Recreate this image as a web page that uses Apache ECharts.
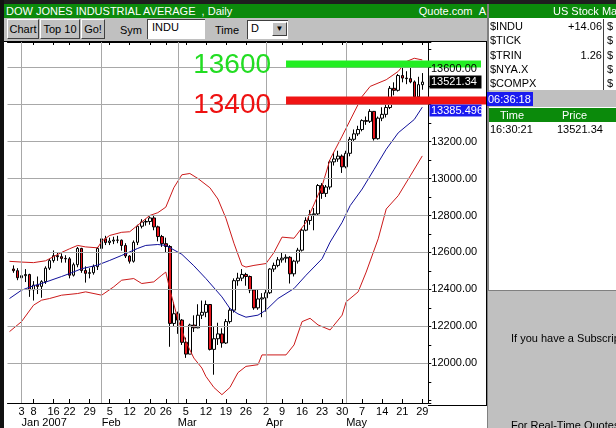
<!DOCTYPE html>
<html><head><meta charset="utf-8">
<script src="https://cdn.jsdelivr.net/npm/echarts/dist/echarts.min.js"></script>
<style>
html,body{margin:0;padding:0;width:616px;height:428px;overflow:hidden;background:#fff;font-family:"Liberation Sans",Arial,sans-serif;font-size:11px;color:#000;}
#chart{position:absolute;left:0;top:0;width:616px;height:428px;}
.a{position:absolute;white-space:nowrap;}
.btn{position:absolute;top:19px;height:20px;background:#c0c0c0;border-top:1px solid #fff;border-left:1px solid #fff;border-right:1px solid #404040;border-bottom:1px solid #404040;box-sizing:border-box;text-align:center;line-height:18px;font-size:11px;}
.row{position:absolute;left:490px;font-size:11px;line-height:14px;}
.val{position:absolute;font-size:11px;line-height:14px;text-align:right;}
</style></head><body>
<div id="chart"></div>
<!-- frame -->
<div class="a" style="left:0;top:0;width:616px;height:4px;background:#1e1e1e"></div>
<div class="a" style="left:0;top:0;width:4px;height:428px;background:#111"></div>
<div class="a" style="left:4px;top:41px;width:483px;height:1px;background:#000"></div>
<div class="a" style="left:486px;top:41px;width:1px;height:365px;background:#000"></div>
<div class="a" style="left:428px;top:405px;width:59px;height:1px;background:#000"></div>
<!-- title bar -->
<div class="a" style="left:4px;top:4px;width:483px;height:14px;background:#0b8a0b;color:#fff;overflow:hidden">
  <span class="a" style="left:2px;top:0;line-height:14px;font-size:11px">DOW JONES INDUSTRIAL AVERAGE &nbsp;, Daily</span>
  <span class="a" style="right:1px;top:0;line-height:14px;font-size:11px">Quote.com &nbsp;A</span>
</div>
<!-- toolbar -->
<div class="a" style="left:4px;top:18px;width:483px;height:23px;background:#c0c0c0"></div>
<div class="btn" style="left:7px;width:32px">Chart</div>
<div class="btn" style="left:40px;width:40px">Top 10</div>
<div class="btn" style="left:81px;width:24px">Go!</div>
<div class="a" style="left:120px;top:23px;line-height:14px">Sym</div>
<div class="a" style="left:147px;top:19px;width:58px;height:20px;background:#fff;border-top:1px solid #404040;border-left:1px solid #404040;box-sizing:border-box"><span class="a" style="left:4px;top:1px;line-height:13px">INDU</span></div>
<div class="a" style="left:215px;top:23px;line-height:14px">Time</div>
<div class="a" style="left:247px;top:20px;width:41px;height:19px;background:#fff;border-top:1px solid #404040;border-left:1px solid #404040;box-sizing:border-box"><span class="a" style="left:3px;top:1px;line-height:13px">D</span>
  <div class="a" style="left:24px;top:1px;width:15px;height:14px;background:#c0c0c0;border-top:1px solid #fff;border-left:1px solid #fff;border-right:1px solid #404040;border-bottom:1px solid #404040;box-sizing:border-box;text-align:center;font-size:8px;line-height:12px">&#9660;</div></div>
<!-- right panel -->
<div class="a" style="left:487px;top:4px;width:129px;height:424px;background:#fff"></div>
<div class="a" style="left:487px;top:4px;width:2px;height:424px;background:#808080"></div>
<div class="a" style="left:489px;top:4px;width:127px;height:14px;background:#0b8a0b;color:#fff"><span class="a" style="left:64px;top:0;line-height:14px">US Stock Ma</span></div>
<div class="row" style="top:19px">$INDU</div><div class="val" style="left:560px;width:42px;top:19px">+14.06</div>
<div class="row" style="top:33px">$TICK</div>
<div class="row" style="top:48px">$TRIN</div><div class="val" style="left:560px;width:42px;top:48px">1.26</div>
<div class="row" style="top:62px">$NYA.X</div>
<div class="row" style="top:76px">$COMPX</div>
<div class="a" style="left:603px;top:19px;width:1px;height:71px;background:#404040"></div>
<div class="a" style="left:607px;top:19px;line-height:14px">$</div>
<div class="a" style="left:607px;top:33px;line-height:14px">$</div>
<div class="a" style="left:607px;top:48px;line-height:14px">$</div>
<div class="a" style="left:607px;top:62px;line-height:14px">$</div>
<div class="a" style="left:607px;top:76px;line-height:14px">$</div>
<div class="a" style="left:489px;top:90px;width:127px;height:17px;background:#c0c0c0"></div>
<div class="a" style="left:487px;top:92px;width:46px;height:14px;background:#1a1af0;color:#fff"><span class="a" style="left:1px;top:0;line-height:14px">06:36:18</span></div>
<div class="a" style="left:489px;top:108px;width:127px;height:14px;background:#0b8a0b;color:#fff"><span class="a" style="left:11px;top:0;line-height:14px">Time</span><span class="a" style="left:73px;top:0;line-height:14px">Price</span></div>
<div class="a" style="left:490px;top:122px;line-height:14px">16:30:21</div>
<div class="a" style="left:557px;top:122px;line-height:14px">13521.34</div>
<div class="a" style="left:488px;top:290px;width:128px;height:1px;background:#808080"></div>
<div class="a" style="left:488px;top:291px;width:128px;height:137px;background:#c0c0c0"></div>
<div class="a" style="left:511px;top:331px;line-height:14px">If you have a Subscription</div>
<div class="a" style="left:511px;top:418px;line-height:14px">For Real-Time Quotes</div>
<script>
// ---- data ----
const axisDates = ['12/27','12/28','12/29',
 '1/3','1/4','1/5','1/8','1/9','1/10','1/11','1/12','1/16','1/17','1/18','1/19','1/22','1/23','1/24','1/25','1/26','1/29','1/30','1/31',
 '2/1','2/2','2/5','2/6','2/7','2/8','2/9','2/12','2/13','2/14','2/15','2/16','2/20','2/21','2/22','2/23','2/26','2/27','2/28',
 '3/1','3/2','3/5','3/6','3/7','3/8','3/9','3/12','3/13','3/14','3/15','3/16','3/19','3/20','3/21','3/22','3/23','3/26','3/27','3/28','3/29','3/30',
 '4/2','4/3','4/4','4/5','4/9','4/10','4/11','4/12','4/13','4/16','4/17','4/18','4/19','4/20','4/23','4/24','4/25','4/26','4/27','4/30',
 '5/1','5/2','5/3','5/4','5/7','5/8','5/9','5/10','5/11','5/14','5/15','5/16','5/17','5/18','5/21','5/22','5/23','5/24','5/25','5/29','5/30'];
const openP = [null,12510.57,12501.52,
 12463.15,12474.52,12480.69,12398.01,12423.49,12416.60,12442.16,12514.98,12556.08,12582.59,12577.15,12567.93,12565.53,12477.16,12533.80,12621.77,12502.56,12487.02,12490.78,12523.31,
 12621.69,12673.68,12653.49,12661.74,12666.87,12666.31,12637.63,12580.83,12552.55,12654.85,12741.86,12765.01,12767.57,12786.64,12738.41,12686.02,12647.48,12632.26,12216.24,
 12268.63,12234.34,12114.10,12050.41,12207.59,12192.45,12260.70,12276.32,12318.62,12075.96,12133.40,12159.68,12110.41,12226.17,12288.10,12447.52,12461.14,12481.01,12469.97,12397.29,12300.36,12348.75,
 12354.35,12382.30,12510.30,12530.05,12560.20,12569.14,12573.85,12484.62,12552.96,12612.13,12720.46,12773.04,12803.84,12808.63,12961.98,12919.40,12953.94,13089.89,13105.50,13120.94,
 13062.91,13136.14,13211.88,13241.38,13264.62,13312.97,13309.07,13362.87,13215.13,13326.22,13346.78,13383.84,13487.53,13476.72,13556.53,13542.88,13539.95,13522.15,13441.13,13507.28,null];
const closeP = [null,12501.52,12463.15,
 12474.52,12480.69,12398.01,12423.49,12416.60,12442.16,12514.98,12556.08,12582.59,12577.15,12567.93,12565.53,12477.16,12533.80,12621.77,12502.56,12487.02,12490.78,12523.31,12621.69,
 12673.68,12653.49,12661.74,12666.87,12666.31,12637.63,12580.83,12552.55,12654.85,12741.86,12765.01,12767.57,12786.64,12738.41,12686.02,12647.48,12632.26,12216.24,12268.63,
 12234.34,12114.10,12050.41,12207.59,12192.45,12260.70,12276.32,12318.62,12075.96,12133.40,12159.68,12110.41,12226.17,12288.10,12447.52,12461.14,12481.01,12469.97,12397.29,12300.36,12348.75,12354.35,
 12382.30,12510.30,12530.05,12560.20,12569.14,12573.85,12484.62,12552.96,12612.13,12720.46,12773.04,12803.84,12808.63,12961.98,12919.40,12953.94,13089.89,13105.50,13120.94,13062.91,
 13136.14,13211.88,13241.38,13264.62,13312.97,13309.07,13362.87,13215.13,13326.22,13346.78,13383.84,13487.53,13476.72,13556.53,13542.88,13539.95,13522.15,13441.13,13507.28,13521.34,null];
const highP = [null,12530,12515,
 12580,12510,12485,12445,12470,12450,12525,12565,12611,12600,12595,12585,12575,12545,12630,12625,12525,12515,12535,12630,
 12685,12690,12680,12685,12690,12670,12650,12585,12665,12750,12780,12780,12795,12800,12745,12695,12680,12640,12330,
 12280,12240,12140,12215,12260,12320,12340,12340,12320,12200,12220,12190,12240,12300,12460,12490,12510,12490,12475,12400,12400,12380,
 12400,12515,12545,12575,12600,12590,12580,12560,12625,12730,12790,12830,12840,12970,12975,12965,13100,13140,13150,13130,
 13150,13225,13265,13285,13320,13335,13375,13365,13335,13385,13400,13500,13520,13565,13600,13580,13634,13530,13550,13570,null];
const lowP = [null,12490,12450,
 12404,12440,12360,12340,12375,12355,12430,12505,12545,12555,12545,12545,12460,12470,12520,12490,12437,12460,12480,12505,
 12610,12640,12640,12645,12650,12610,12570,12540,12545,12640,12730,12745,12750,12720,12660,12630,12600,12090,12200,
 12160,12100,12030,12050,12170,12190,12240,12250,12070,11939,12100,12085,12105,12215,12275,12420,12445,12420,12380,12290,12290,12250,
 12280,12375,12495,12520,12545,12545,12432,12470,12540,12605,12715,12750,12720,12800,12890,12900,12940,13070,13090,13030,
 13055,13120,13200,13230,13255,13290,13300,13205,13210,13310,13330,13375,13450,13470,13520,13510,13515,13420,13440,13480,null];
// Bollinger bands
const upperBand = [['12/27',12552],['1/3',12548],['1/8',12545],['1/11',12555],['1/18',12600],['1/22',12620],['1/24',12638],['1/26',12630],['1/31',12625],['2/1',12660],['2/5',12692],['2/8',12709],['2/12',12712],['2/15',12765],['2/20',12800],['2/22',12815],['2/26',12845],['2/28',12950],['3/2',13020],['3/6',13027],['3/8',13000],['3/13',12950],['3/15',12889],['3/19',12785],['3/21',12650],['3/23',12530],['3/26',12521],['3/28',12530],['4/2',12540],['4/4',12600],['4/9',12683],['4/12',12677],['4/17',12763],['4/23',12960],['4/25',13104],['4/30',13229],['5/7',13444],['5/9',13498],['5/15',13534],['5/18',13579],['5/22',13632],['5/24',13650],['5/29',13641]];
const middleBand = [['12/27',12351],['1/3',12396],['1/8',12420],['1/10',12432],['1/18',12470],['1/22',12486],['1/25',12512],['1/31',12532],['2/5',12557],['2/8',12584],['2/14',12622],['2/16',12638],['2/22',12643],['2/26',12638],['3/2',12590],['3/7',12528],['3/12',12459],['3/16',12360],['3/20',12297],['3/22',12268],['3/26',12250],['3/29',12261],['4/2',12288],['4/5',12351],['4/12',12405],['4/17',12477],['4/23',12566],['4/25',12656],['4/30',12763],['5/2',12853],['5/7',12943],['5/10',13050],['5/15',13158],['5/18',13247],['5/24',13319],['5/29',13385.496]];
const lowerBand = [['12/27',12172],['1/3',12226],['1/8',12315],['1/10',12342],['1/12',12351],['1/18',12369],['1/24',12378],['1/26',12387],['2/1',12369],['2/6',12414],['2/8',12450],['2/13',12459],['2/15',12432],['2/21',12441],['2/23',12477],['2/26',12494],['2/27',12400],['2/28',12320],['3/1',12240],['3/2',12180],['3/5',12118],['3/7',12029],['3/9',11975],['3/12',11930],['3/14',11870],['3/16',11831],['3/20',11870],['3/22',11950],['3/26',11984],['3/29',11993],['3/30',12046],['4/10',12046],['4/12',12100],['4/16',12226],['4/18',12244],['4/20',12208],['4/25',12181],['4/30',12261],['5/1',12333],['5/4',12387],['5/8',12494],['5/11',12674],['5/15',12835],['5/18',12907],['5/23',13014],['5/29',13122]];
// ticks / labels
const dayTicks = ['1/3','1/8','1/16','1/22','1/29','2/5','2/12','2/20','2/26','3/5','3/12','3/19','3/26','4/2','4/9','4/16','4/23','4/30','5/7','5/14','5/21','5/29'];
const monthTickDates = ['1/3','2/1','3/1','4/2','5/1'];
const monthTickLabels = ['Jan 2007','Feb','Mar','Apr','May'];
const gridLevels = [12000,12200,12400,12600,12800,13000,13200,13400,13600];
const levelHigh = 13600, levelLow = 13400, levelStart = '4/10';
const lastPrice = 13521.34, maLast = 13385.496;

const FONT = '"Liberation Sans", Arial, sans-serif';
const chart = echarts.init(document.getElementById('chart'));
const candleData = axisDates.map((d,i)=> closeP[i]==null ? '-' : [openP[i], closeP[i], lowP[i], highP[i]]);
const isDay = (i,v)=>dayTicks.indexOf(v)>=0;
const isMonth = (i,v)=>monthTickDates.indexOf(v)>=0;
chart.setOption({
  animation:false,
  backgroundColor:'#ffffff',
  grid:{left:7.5, right:187.7, top:42, bottom:23},
  xAxis:[
    {type:'category', data:axisDates, boundaryGap:true, position:'bottom',
     axisLine:{lineStyle:{color:'#000',width:1}},
     axisTick:{show:true, inside:true, length:4, alignWithLabel:true, interval:isDay, lineStyle:{color:'#000'}},
     axisLabel:{interval:isDay, formatter:v=>v.split('/')[1], color:'#000', fontSize:11, fontFamily:FONT, margin:3},
     splitLine:{show:false}},
    {type:'category', data:axisDates, boundaryGap:true, position:'bottom', offset:11,
     axisLine:{show:false}, axisTick:{show:false},
     axisLabel:{interval:isMonth, formatter:v=>monthTickLabels[monthTickDates.indexOf(v)], align:'left', color:'#000', fontSize:11, fontFamily:FONT, margin:3}},
    {type:'category', data:axisDates, boundaryGap:true, position:'top',
     axisLine:{show:true, lineStyle:{color:'#000'}},
     axisTick:{show:true, inside:true, length:3, alignWithLabel:true, interval:isDay, lineStyle:{color:'#000'}},
     axisLabel:{show:false}}
  ],
  yAxis:{type:'value', position:'right', min:11786, max:13738, splitNumber:10, minInterval:200, maxInterval:200,
    axisLine:{show:true, lineStyle:{color:'#000'}},
    axisTick:{show:true, length:3, lineStyle:{color:'#000'}},
    minorTick:{show:true, splitNumber:2, length:3, lineStyle:{color:'#000'}},
    splitLine:{show:false},
    axisLabel:{formatter:v=>(v<11900||v>13700||v===levelLow||v===levelHigh)?'':v.toFixed(2), color:'#000', fontSize:11, fontFamily:FONT, margin:3}},
  series:[
    {type:'line', data:[], z:1, silent:true,
     markLine:{silent:true, symbol:'none', animation:false, label:{show:false},
       lineStyle:{color:'#a8a8a8', type:'solid', width:1},
       data:gridLevels.map(v=>({yAxis:v})).concat(monthTickDates.map(d=>({xAxis:d})))}},
    {type:'candlestick', data:candleData, z:3, barWidth:3,
     itemStyle:{color:'#ffffff', color0:'#e8141c', borderColor:'#000', borderColor0:'#000', borderWidth:1}},
    {type:'line', data:upperBand, symbol:'none', z:4, lineStyle:{color:'#cc1a1a', width:1}},
    {type:'line', data:middleBand, symbol:'none', z:4, lineStyle:{color:'#10109a', width:1}},
    {type:'line', data:lowerBand, symbol:'none', z:4, lineStyle:{color:'#cc1a1a', width:1}}
  ]
});
const yG = chart.convertToPixel({yAxisIndex:0}, levelHigh);
const yR = chart.convertToPixel({yAxisIndex:0}, levelLow);
const xS = chart.convertToPixel({xAxisIndex:0}, levelStart);
const yL = chart.convertToPixel({yAxisIndex:0}, lastPrice);
const F11 = '11px "Liberation Sans", Arial, sans-serif';
const FBIG = '28px "Liberation Sans", Arial, sans-serif';
chart.setOption({graphic:[
  {type:'rect', z:100, shape:{x:xS, y:yG-7, width:481-xS, height:7}, style:{fill:'#22ee22'}},
  {type:'rect', z:100, shape:{x:xS, y:yR-8, width:487-xS, height:8}, style:{fill:'#f01414'}},
  {type:'text', z:101, x:xS-15, y:yG-2, style:{text:String(levelHigh), fill:'#22dd22', font:FBIG, textAlign:'right', textVerticalAlign:'middle'}},
  {type:'text', z:101, x:xS-15, y:yR+1, style:{text:String(levelLow), fill:'#ee1111', font:FBIG, textAlign:'right', textVerticalAlign:'middle'}},
  {type:'text', z:101, x:431, y:yG+1, style:{text:levelHigh.toFixed(2), fill:'#000', font:F11, textVerticalAlign:'middle'}},
  {type:'rect', z:100, shape:{x:429.5, y:yL-6.5, width:52, height:13}, style:{fill:'#000'}},
  {type:'text', z:101, x:431, y:yL, style:{text:lastPrice.toFixed(2), fill:'#fff', font:F11, textVerticalAlign:'middle'}},
  {type:'rect', z:100, shape:{x:429.5, y:yR, width:52, height:12}, style:{fill:'#1a1af0'}},
  {type:'text', z:101, x:431, y:yR+6, style:{text:String(maLast), fill:'#fff', font:F11, textVerticalAlign:'middle'}}
]});
</script>
</body></html>
